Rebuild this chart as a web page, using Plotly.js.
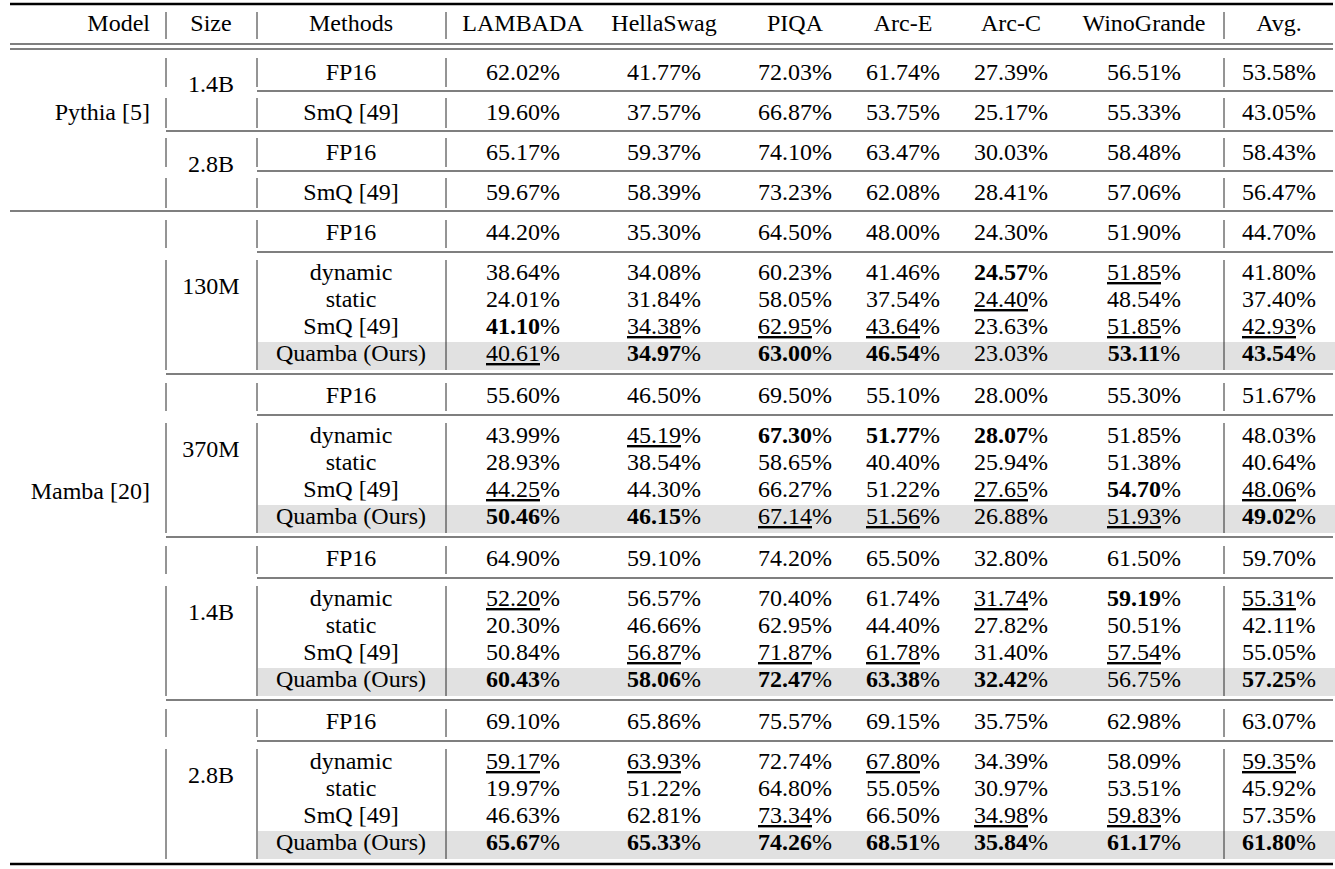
<!DOCTYPE html>
<html>
<head>
<meta charset="utf-8">
<script src="https://cdn.plot.ly/plotly-3.0.1.min.js"></script>
<style>
  html, body { margin: 0; padding: 0; background: #ffffff; }
  #table { width: 1335px; height: 869px; }
</style>
</head>
<body>
<div id="table"></div>
<script>
/* Quantization results table (Pythia / Mamba), drawn as text marks on a
 * hidden pixel-like axis. Rules and highlight bands are layout shapes. */

const BENCHMARKS = ["LAMBADA", "HellaSwag", "PIQA", "Arc-E", "Arc-C", "WinoGrande", "Avg."];

// Pythia [5]
const PYTHIA_SIZES = ["1.4B", "2.8B"];
const PYTHIA_METHODS = ["FP16", "SmQ [49]"];
const PYTHIA_1_4B_FP16 = [62.02, 41.77, 72.03, 61.74, 27.39, 56.51, 53.58];
const PYTHIA_1_4B_SMQ = [19.60, 37.57, 66.87, 53.75, 25.17, 55.33, 43.05];
const PYTHIA_2_8B_FP16 = [65.17, 59.37, 74.10, 63.47, 30.03, 58.48, 58.43];
const PYTHIA_2_8B_SMQ = [59.67, 58.39, 73.23, 62.08, 28.41, 57.06, 56.47];

// Mamba [20]
const MAMBA_SIZES = ["130M", "370M", "1.4B", "2.8B"];
const MAMBA_METHODS = ["FP16", "dynamic", "static", "SmQ [49]", "Quamba (Ours)"];
const MAMBA_130M = [
  [44.20, 35.30, 64.50, 48.00, 24.30, 51.90, 44.70],
  [38.64, 34.08, 60.23, 41.46, 24.57, 51.85, 41.80],
  [24.01, 31.84, 58.05, 37.54, 24.40, 48.54, 37.40],
  [41.10, 34.38, 62.95, 43.64, 23.63, 51.85, 42.93],
  [40.61, 34.97, 63.00, 46.54, 23.03, 53.11, 43.54],
];
const MAMBA_370M = [
  [55.60, 46.50, 69.50, 55.10, 28.00, 55.30, 51.67],
  [43.99, 45.19, 67.30, 51.77, 28.07, 51.85, 48.03],
  [28.93, 38.54, 58.65, 40.40, 25.94, 51.38, 40.64],
  [44.25, 44.30, 66.27, 51.22, 27.65, 54.70, 48.06],
  [50.46, 46.15, 67.14, 51.56, 26.88, 51.93, 49.02],
];
const MAMBA_1_4B = [
  [64.90, 59.10, 74.20, 65.50, 32.80, 61.50, 59.70],
  [52.20, 56.57, 70.40, 61.74, 31.74, 59.19, 55.31],
  [20.30, 46.66, 62.95, 44.40, 27.82, 50.51, 42.11],
  [50.84, 56.87, 71.87, 61.78, 31.40, 57.54, 55.05],
  [60.43, 58.06, 72.47, 63.38, 32.42, 56.75, 57.25],
];
const MAMBA_2_8B = [
  [69.10, 65.86, 75.57, 69.15, 35.75, 62.98, 63.07],
  [59.17, 63.93, 72.74, 67.80, 34.39, 58.09, 59.35],
  [19.97, 51.22, 64.80, 55.05, 30.97, 53.51, 45.92],
  [46.63, 62.81, 73.34, 66.50, 34.98, 59.83, 57.35],
  [65.67, 65.33, 74.26, 68.51, 35.84, 61.17, 61.80],
];

/* ---------- geometry (axis units == pixels) ---------- */
const W = 1335, H = 869;
const X_LEFT = 10, X_RIGHT = 1333;
const X_MODEL = 150, X_SIZE = 211, X_METHOD = 351;
const COL_X = [523, 664, 795, 903, 1011, 1144, 1279];
const VRULES = [166, 257, 446, 1224];
const DY = 2; // text marks sit a touch low in the source
const FONT = { family: "Liberation Serif, Times New Roman, Times, serif", size: 24, color: "#000000" };
const INK = "#000000";
const RULE = "#2a2a2a";
const BAND = "#e1e1e1";

const marks = { x: [], y: [], text: [], pos: [] };
const shapes = [];

function put(x, y, text, pos = "middle center") {
  marks.x.push(x); marks.y.push(y + DY); marks.text.push(text); marks.pos.push(pos);
}
function hline(y, x0, width = 1.1) {
  shapes.push({ type: "line", xref: "x", yref: "y", x0, x1: X_RIGHT, y0: y, y1: y,
    line: { color: INK, width } });
}
function vrules(y0, y1) {
  for (const x of VRULES) {
    shapes.push({ type: "line", xref: "x", yref: "y", x0: x, x1: x, y0, y1,
      line: { color: RULE, width: 1 } });
  }
}
function cell(v, style) {
  const d = v.toFixed(2);
  if (style === "best") return `<b>${d}</b>%`;
  if (style === "second") return `<u>${d}</u>%`;
  return `${d}%`;
}

// best / second-best among the quantized methods, per column
function rankStyles(group) {
  const quant = group.slice(1);
  return quant.map((row) => row.map((v, j) => {
    const col = quant.map((r) => r[j]);
    const best = Math.max(...col);
    const second = Math.max(...col.filter((c) => c < best));
    return v === best ? "best" : v === second ? "second" : "";
  }));
}

/* ---------- header ---------- */
hline(4, X_LEFT, 2.6);
put(X_MODEL, 23, "Model", "middle left");
put(X_SIZE, 23, "Size");
put(X_METHOD, 23, "Methods");
BENCHMARKS.forEach((b, j) => put(COL_X[j], 23, b));
vrules(12, 39);
hline(44, X_LEFT);
hline(49, X_LEFT);

/* ---------- Pythia ---------- */
const pythiaRows = [[PYTHIA_1_4B_FP16, PYTHIA_1_4B_SMQ], [PYTHIA_2_8B_FP16, PYTHIA_2_8B_SMQ]];
put(X_MODEL, 112, "Pythia [5]", "middle left");
PYTHIA_SIZES.forEach((size, s) => {
  const top = 51 + 80 * s;
  put(X_SIZE, top + 33, size);
  pythiaRows[s].forEach((vals, k) => {
    const y = top + 21 + 40 * k;
    put(X_METHOD, y, PYTHIA_METHODS[k]);
    vals.forEach((v, j) => put(COL_X[j], y, cell(v, "")));
  });
  vrules(top + 7, top + 36);
  vrules(top + 47, top + 77);
  hline(top + 40, 257);
  if (s === 0) hline(top + 80, 166);
});
hline(211, X_LEFT);

/* ---------- Mamba ---------- */
const mambaGroups = [MAMBA_130M, MAMBA_370M, MAMBA_1_4B, MAMBA_2_8B];
put(X_MODEL, 491, "Mamba [20]", "middle left");
MAMBA_SIZES.forEach((size, s) => {
  const top = 211 + 163 * s;
  const bottom = top + 163;
  const group = mambaGroups[s];
  const styles = rankStyles(group);
  // highlight band behind "Quamba (Ours)"
  shapes.push({ type: "rect", xref: "x", yref: "y", layer: "below",
    x0: 258, x1: W, y0: top + 61 + 81 - 11, y1: bottom - 4,
    fillcolor: BAND, line: { width: 0 } });
  put(X_SIZE, top + 75, size);
  group.forEach((vals, k) => {
    const y = k === 0 ? top + 21 : top + 61 + 27 * (k - 1);
    put(X_METHOD, y, MAMBA_METHODS[k]);
    vals.forEach((v, j) => put(COL_X[j], y, cell(v, k === 0 ? "" : styles[k - 1][j])));
  });
  vrules(top + 9, top + 37);
  vrules(top + 49, bottom - 4);
  hline(top + 41, 257);
  if (s < MAMBA_SIZES.length - 1) hline(bottom, 166);
});
hline(864, X_LEFT, 2.6);

const trace = {
  type: "scatter",
  mode: "text",
  x: marks.x, y: marks.y, text: marks.text,
  textposition: marks.pos,
  textfont: FONT,
  hoverinfo: "skip",
  cliponaxis: false,
  showlegend: false,
};

const layout = {
  width: W, height: H,
  margin: { l: 0, r: 0, t: 0, b: 0 },
  paper_bgcolor: "#ffffff",
  plot_bgcolor: "#ffffff",
  xaxis: { range: [0, W], visible: false, fixedrange: true },
  yaxis: { range: [H, 0], visible: false, fixedrange: true },
  shapes,
  font: FONT,
  dragmode: false,
};

Plotly.newPlot("table", [trace], layout, { displayModeBar: false, staticPlot: true });
</script>
</body>
</html>
